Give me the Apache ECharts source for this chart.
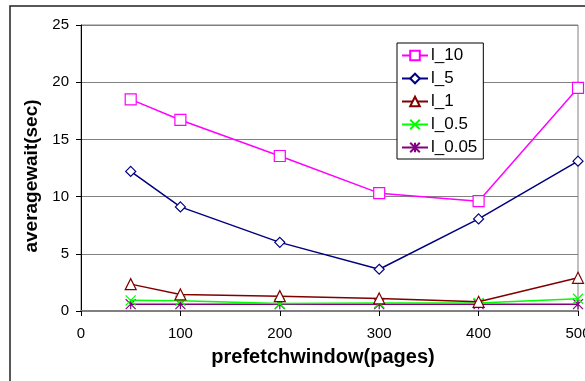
<!DOCTYPE html>
<html><head><meta charset="utf-8">
<script src="https://cdn.jsdelivr.net/npm/echarts@6/dist/echarts.min.js"></script>
<style>html,body{margin:0;padding:0;background:#fff;overflow:hidden}#c{width:585px;height:381px}</style>
</head><body><div id="c"></div>
<script>
const xValues = [50, 100, 200, 300, 400, 500];
const seriesNames = ['l_10', 'l_5', 'l_1', 'l_0.5', 'l_0.05'];
const l10 = [18.5, 16.7, 13.55, 10.3, 9.6, 19.5];
const l5 = [12.2, 9.1, 6.0, 3.65, 8.05, 13.1];
const l1 = [2.35, 1.45, 1.3, 1.1, 0.8, 2.9];
const l05 = [0.93, 0.9, 0.65, 0.7, 0.7, 1.07];
const l005 = [0.6, 0.6, 0.6, 0.6, 0.6, 0.6];
const yTicks = [0, 5, 10, 15, 20, 25];
const xTicks = [0, 100, 200, 300, 400, 500];

const seriesData = [l10, l5, l1, l05, l005];
const colors = ['#FF00FF', '#000080', '#800000', '#00FF00', '#800080'];
const symbols = ['rect', 'diamond', 'triangle', 'path://M0,0L10,10M10,0L0,10', 'path://M0,0L10,10M10,0L0,10M5,0L5,10'];
const sizes = [11, 10, 11, 10, 10];

const chart = echarts.init(document.getElementById('c'));
const font = 'Liberation Sans, Arial, sans-serif';
chart.setOption({
  animation: false,
  backgroundColor: '#fff',
  textStyle: { fontFamily: font },
  graphic: [{ type: 'rect', shape: { x: 10, y: 6, width: 600, height: 400 }, style: { fill: 'none', stroke: '#222', lineWidth: 1.5 }, z: 100 }],
  grid: { left: 81, right: 7, top: 25, bottom: 70, show: true, borderColor: '#808080', borderWidth: 1, containLabel: false, outerBoundsMode: 'none' },
  xAxis: {
    type: 'value', min: xTicks[0], max: xTicks[xTicks.length - 1], interval: 100,
    name: 'prefetchwindow(pages)', nameLocation: 'middle', nameGap: 36,
    nameTextStyle: { fontSize: 20, fontWeight: 'bold', color: '#000', fontFamily: font, padding: [0, 13, 0, 0] },
    axisLine: { lineStyle: { color: '#808080', width: 2 } },
    axisTick: { show: true, length: 5, lineStyle: { color: '#000' } },
    axisLabel: { fontSize: 15, color: '#000', margin: 15, fontFamily: font, hideOverlap: false },
    splitLine: { show: false }
  },
  yAxis: {
    type: 'value', min: yTicks[0], max: yTicks[yTicks.length - 1], interval: 5,
    name: 'averagewait(sec)', nameLocation: 'middle', nameGap: 40, nameRotate: 90,
    nameTextStyle: { fontSize: 19, fontWeight: 'bold', color: '#000', fontFamily: font, padding: [0, 16, 0, 0] },
    axisLine: { show: true, lineStyle: { color: '#000', width: 1 } },
    axisTick: { show: true, length: 5, lineStyle: { color: '#000' } },
    axisLabel: { fontSize: 15, color: '#000', margin: 12, fontFamily: font },
    splitLine: { show: true, lineStyle: { color: '#808080', width: 1 } }
  },
  legend: {
    orient: 'vertical', left: 397, top: 43, width: 87,
    padding: [4, 6, 3, 4], itemGap: 6, itemWidth: 26, itemHeight: 12,
    backgroundColor: '#fff', borderColor: '#000', borderWidth: 1,
    textStyle: { fontSize: 17, color: '#000', fontFamily: font, padding: [0, 0, 0, -2] },
    data: seriesNames
  },
  series: seriesNames.map((n, i) => ({
    name: n, type: 'line',
    data: xValues.map((x, j) => [x, seriesData[i][j]]),
    symbol: symbols[i], symbolSize: sizes[i], showAllSymbol: true,
    lineStyle: { color: colors[i], width: 1.5 },
    itemStyle: { color: i >= 3 ? colors[i] : '#fff', borderColor: colors[i], borderWidth: 1.2 },
    z: 10 - i
  }))
});
</script></body></html>
